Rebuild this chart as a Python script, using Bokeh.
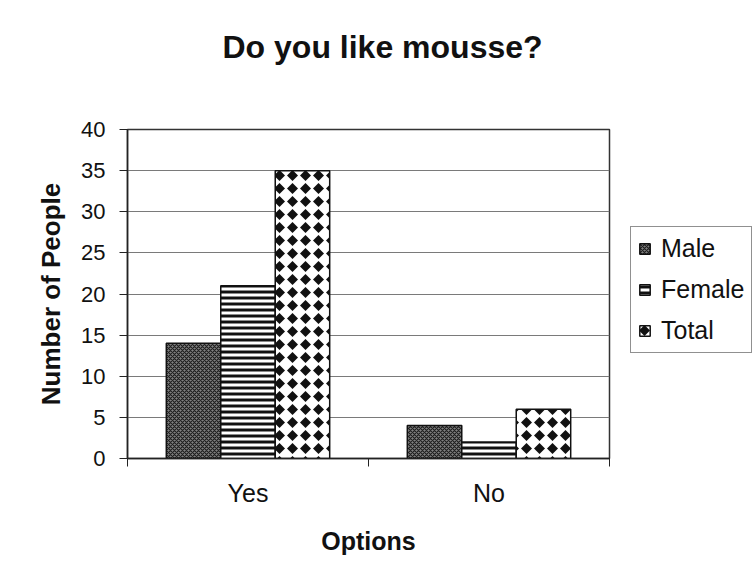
from bokeh.plotting import figure
from bokeh.models import (ColumnDataSource, Range1d, FixedTicker,
                          Legend, LegendItem, CanvasTexture, Title)
from bokeh.core.properties import value
from bokeh.transform import dodge
from bokeh.embed import file_html
from bokeh.resources import INLINE

# ---- data ----
categories = ["Yes", "No"]
male = [14, 4]
female = [21, 2]
total = [35, 6]
series_names = ["Male", "Female", "Total"]
y_ticks = [0, 5, 10, 15, 20, 25, 30, 35, 40]

FONT = "Liberation Sans"

# category slots: each category occupies one unit, centred at i + 0.5
centers = [i + 0.5 for i in range(len(categories))]
edges = list(range(len(categories) + 1))

source = ColumnDataSource(dict(x=centers, cats=categories, male=male, female=female, total=total))

p = figure(x_range=Range1d(0, len(categories)), y_range=Range1d(0, 40),
           frame_width=482, frame_height=329, output_backend="svg", toolbar_location=None,
           min_border_left=127, min_border_right=0, min_border_top=129, min_border_bottom=130)
p.background_fill_color = "white"
p.border_fill_color = "white"
p.outline_line_color = "#333333"
p.outline_line_width = 1.5

# title: a blank spacer next to the frame, then the real title further out
spacer = Title(text=" ", text_font_size="2px", standoff=56)
main_title = Title(text="Do you like mousse?", text_font=FONT, text_font_size="32px",
                   text_font_style="bold", text_color="#111111", align="left",
                   offset=95, standoff=10)
p.add_layout(spacer, "above")
p.add_layout(main_title, "above")

# grid
p.xgrid.grid_line_color = None
p.ygrid.grid_line_color = "#7a7a7a"
p.ygrid.grid_line_width = 1
p.ygrid.ticker = FixedTicker(ticks=y_ticks)

# y axis
ya = p.yaxis[0]
ya.ticker = FixedTicker(ticks=y_ticks)
ya.major_tick_out = 8
ya.major_tick_in = 0
ya.minor_tick_line_color = None
ya.axis_line_color = "#222222"
ya.axis_line_width = 1.5
ya.major_tick_line_color = "#222222"
ya.major_label_text_font = FONT
ya.major_label_text_font_size = "22px"
ya.major_label_text_color = "#111111"
ya.major_label_standoff = 14
ya.axis_label = "Number of People"
ya.axis_label_text_font = FONT
ya.axis_label_text_font_size = "26px"
ya.axis_label_text_font_style = "bold"
ya.axis_label_text_color = "#111111"
ya.axis_label_standoff = 12

# x axis: labels at category centres, tick marks at category boundaries
xa = p.xaxis[0]
xa.ticker = FixedTicker(ticks=centers, minor_ticks=edges)
xa.major_label_overrides = {c: name for c, name in zip(centers, categories)}
xa.axis_line_color = "#222222"
xa.axis_line_width = 1.5
xa.major_tick_line_color = None
xa.major_tick_out = 8
xa.major_tick_in = 0
xa.minor_tick_line_color = "#222222"
xa.minor_tick_out = 8
xa.minor_tick_in = 0
xa.major_label_text_font = FONT
xa.major_label_text_font_size = "25px"
xa.major_label_text_color = "#111111"
xa.major_label_standoff = 12
xa.axis_label = "Options"
xa.axis_label_text_font = FONT
xa.axis_label_text_font_size = "25px"
xa.axis_label_text_font_style = "bold"
xa.axis_label_text_color = "#111111"
xa.axis_label_standoff = 17

# patterns
diamonds = CanvasTexture(code="""
const s = 13;
ctx.canvas.width = s;
ctx.canvas.height = s;
const r = 5.5;
ctx.fillStyle = "#ffffff";
ctx.fillRect(0, 0, s, s);
ctx.fillStyle = "#111111";
ctx.beginPath();
ctx.moveTo(s/2, s/2 - r);
ctx.lineTo(s/2 + r, s/2);
ctx.lineTo(s/2, s/2 + r);
ctx.lineTo(s/2 - r, s/2);
ctx.closePath();
ctx.fill();
""")

W = 0.226
r_male = p.vbar(x=dodge("x", -W), top="male", width=W, source=source,
                fill_color="#808080", line_color="#111111", line_width=1.5,
                hatch_pattern="diagonal_cross", hatch_color="#1e1e1e", hatch_scale=4, hatch_weight=1.2)
r_female = p.vbar(x=dodge("x", 0), top="female", width=W, source=source,
                  fill_color="white", line_color="#111111", line_width=1.5,
                  hatch_pattern="horizontal_line", hatch_color="#111111", hatch_scale=6, hatch_weight=3)
r_total = p.vbar(x=dodge("x", W), top="total", width=W, source=source,
                 fill_color="white", line_color="#111111", line_width=1.5,
                 hatch_pattern=value("diamonds"), hatch_extra={"diamonds": diamonds},
                 hatch_color="#111111", hatch_scale=13)

legend = Legend(items=[LegendItem(label=n, renderers=[r]) for n, r in
                       zip(series_names, [r_male, r_female, r_total])],
                location=(21, 105), margin=0)
legend.label_text_font = FONT
legend.label_text_font_size = "25px"
legend.label_text_color = "#111111"
legend.glyph_width = 13
legend.glyph_height = 13
legend.label_standoff = 10
legend.padding = 7
legend.spacing = 12
legend.border_line_color = "#222222"
legend.border_line_width = 1
legend.background_fill_color = "white"
legend.background_fill_alpha = 1
p.add_layout(legend, "right")

open("out.html", "w").write(file_html(p, INLINE))
